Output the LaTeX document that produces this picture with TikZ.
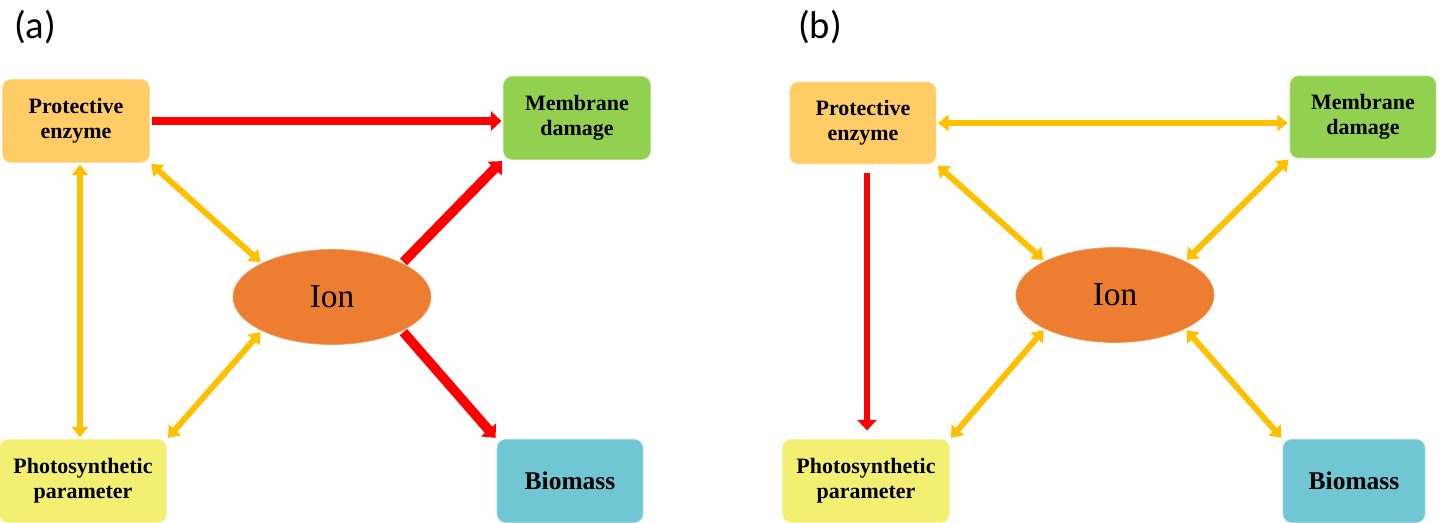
\documentclass[tikz,border=0pt]{standalone}
\usepackage{fontspec}
\setmainfont{Liberation Serif}
\newfontfamily\labelfont{Carlito}
\usepackage{xcolor}
\usetikzlibrary{arrows.meta, positioning, shapes.geometric, calc}

\definecolor{enzymecol}{HTML}{FFCC66}
\definecolor{membcol}{HTML}{92D050}
\definecolor{ioncol}{HTML}{ED7D31}
\definecolor{photocol}{HTML}{F3EF73}
\definecolor{biocol}{HTML}{70C6D2}
\definecolor{linkyel}{HTML}{FFC000}
\definecolor{linkred}{HTML}{FF0000}

\begin{document}
\begin{tikzpicture}[
      x=0.02cm, y=-0.02cm,
      box/.style={rectangle, rounded corners=5pt, align=center, font=\bfseries\fontsize{12.5}{14}\selectfont, inner sep=0pt},
      ionnode/.style={ellipse, fill=ioncol, draw=ioncol!80!white, minimum width=3.96cm, minimum height=1.9cm, font=\fontsize{19}{21}\selectfont},
      both/.style={{Triangle[length=6pt,width=9pt]}-{Triangle[length=6pt,width=9pt]}, line width=3.4pt, draw=linkyel, shorten <=1pt, shorten >=1pt},
      onedir/.style={-{Triangle[length=6pt,width=11pt]}, line width=4pt, draw=linkred, shorten <=1pt, shorten >=1pt},
      panel/.style={font=\labelfont\fontsize{22}{24}\selectfont}
    ]
      \useasboundingbox (0,0) rectangle (1441,523);

      % panel (a)
      \node[panel] (lbla) at (35,27) {(a)};
      \node[box, fill=enzymecol, draw=enzymecol!70!white, minimum width=2.94cm, minimum height=1.66cm] (pea) at (76,121) {Protective\\enzyme};
      \node[box, fill=membcol, draw=membcol!70!white, minimum width=2.94cm, minimum height=1.66cm] (mda) at (577,118) {Membrane\\damage};
      \node[ionnode] (iona) at (332,297) {Ion};
      \node[box, fill=photocol, draw=photocol!70!white, minimum width=3.34cm, minimum height=1.66cm, font=\bfseries\fontsize{12.5}{14}\selectfont] (ppa) at (83,481) {Photosynthetic\\parameter};
      \node[box, fill=biocol, draw=biocol!70!white, minimum width=2.92cm, minimum height=1.66cm, font=\bfseries\fontsize{14.5}{16}\selectfont] (bma) at (570,481) {Biomass};

      \draw[onedir] (pea) -- (pea -| mda.west);
      \draw[both] (pea.south) ++(4,0) coordinate (pa1) -- (pa1 |- ppa.north);
      \draw[both] (pea.south east) -- (iona.north west);
      \draw[both] (ppa.north east) -- (iona.south west);
      \draw[onedir, line width=5.5pt] (iona.north east) -- (mda.south west);
      \draw[onedir, line width=5.5pt] (iona.south east) -- (bma.north west);

      % panel (b)
      \node[panel] (lblb) at (820,27) {(b)};
      \node[box, fill=enzymecol, draw=enzymecol!70!white, minimum width=2.92cm, minimum height=1.64cm] (peb) at (863,123) {Protective\\enzyme};
      \node[box, fill=membcol, draw=membcol!70!white, minimum width=2.92cm, minimum height=1.64cm] (mdb) at (1363,117) {Membrane\\damage};
      \node[ionnode] (ionb) at (1115,295) {Ion};
      \node[box, fill=photocol, draw=photocol!70!white, minimum width=3.34cm, minimum height=1.66cm, font=\bfseries\fontsize{12.5}{14}\selectfont] (ppb) at (866,481) {Photosynthetic\\parameter};
      \node[box, fill=biocol, draw=biocol!70!white, minimum width=2.84cm, minimum height=1.66cm, font=\bfseries\fontsize{14.5}{16}\selectfont] (bmb) at (1354,481) {Biomass};

      \draw[both] (peb.east) -- (peb.east -| mdb.west);
      \draw[onedir, line width=3.4pt, shorten <=5pt, shorten >=5pt] (peb.south) ++(4,0) coordinate (pb1) -- (pb1 |- ppb.north);
      \draw[both] (peb.south east) -- (ionb.north west);
      \draw[both] (mdb.south west) -- (ionb.north east);
      \draw[both] (ppb.north east) -- (ionb.south west);
      \draw[both] (bmb.north west) -- (ionb.south east);
    \end{tikzpicture}
\end{document}
